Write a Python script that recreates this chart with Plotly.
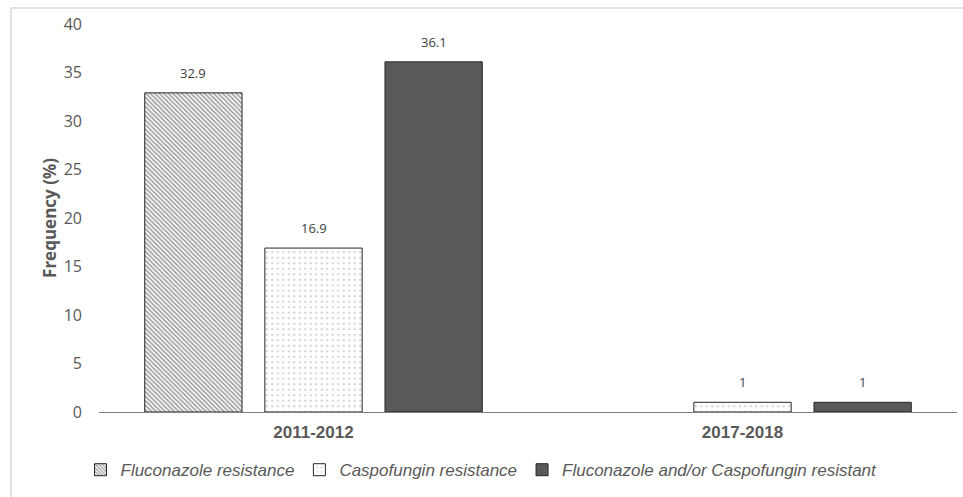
import plotly.graph_objects as go

periods = ["2011-2012", "2017-2018"]
fluconazole = [32.9, None]
caspofungin = [16.9, 1]
combined = [36.1, 1]
series_names = [
    "Fluconazole resistance",
    "Caspofungin resistance",
    "Fluconazole and/or Caspofungin resistant",
]
y_ticks = [0, 5, 10, 15, 20, 25, 30, 35, 40]

TEXT = "#595959"
LABEL = "#404040"
EDGE = "#262626"
NARROW = "Liberation Sans Narrow, Arial Narrow, sans-serif"
BODY = "Open Sans, Liberation Sans, sans-serif"
BARGAP = 0.16

fig = go.Figure()

fig.add_trace(go.Bar(
    name=series_names[0], x=periods, y=fluconazole,
    marker=dict(color="white", line=dict(color=EDGE, width=1),
                pattern=dict(shape="\\", fgcolor="#3a3a3a", bgcolor="white",
                             size=3.2, solidity=0.5, fillmode="overlay")),
))
fig.add_trace(go.Bar(
    name=series_names[1], x=periods, y=caspofungin,
    marker=dict(color="white", line=dict(color=EDGE, width=1),
                pattern=dict(shape=".", fgcolor="#a6a6a6", bgcolor="white",
                             size=5.5, solidity=0.15, fillmode="overlay")),
))
fig.add_trace(go.Bar(
    name=series_names[2], x=periods, y=combined,
    marker=dict(color="#595959", line=dict(color=EDGE, width=1)),
))

# value labels above each bar, placed at the bar's slot within its group
slot = (1 - BARGAP) / 3
for k, vals in enumerate([fluconazole, caspofungin, combined]):
    for i, v in enumerate(vals):
        if v is None:
            continue
        fig.add_annotation(x=i + (k - 1) * slot, y=v, xref="x", yref="y",
                           text=f"{v:g}", showarrow=False, yanchor="bottom",
                           yshift=9,
                           font=dict(family=BODY, size=13, color=LABEL))

# thin outer frame around the whole chart area
fig.add_shape(type="rect", xref="paper", yref="paper",
              x0=-0.1026, x1=1.02, y0=-0.3, y1=1.0412,
              line=dict(color="#d9d9d9", width=1.5), fillcolor="rgba(0,0,0,0)",
              layer="below")

fig.update_layout(
    width=963, height=497,
    margin=dict(l=99, r=6, t=24, b=85, autoexpand=False),
    paper_bgcolor="white", plot_bgcolor="white",
    barmode="group", bargap=BARGAP, bargroupgap=0.19,
    showlegend=True,
    legend=dict(orientation="h", x=0.5, xanchor="center", xref="container",
                y=0.054, yanchor="middle", yref="container",
                font=dict(family=NARROW, size=17, color=TEXT, style="italic"),
                itemwidth=30, traceorder="normal"),
    xaxis=dict(showline=True, linecolor="#7f7f7f", linewidth=1.3,
               ticks="", showgrid=False, ticklabelstandoff=4,
               tickfont=dict(family=NARROW, size=17, color=TEXT, weight="bold")),
    yaxis=dict(range=[0, 40], tickvals=y_ticks, showgrid=False, zeroline=False,
               showline=False, ticks="", ticklabelstandoff=16,
               tickfont=dict(family=BODY, size=16, color=TEXT),
               title=dict(text="Frequency (%)", standoff=2,
                          font=dict(family=BODY, size=17, color=TEXT, weight="bold"))),
)

fig.write_html("out.html")
